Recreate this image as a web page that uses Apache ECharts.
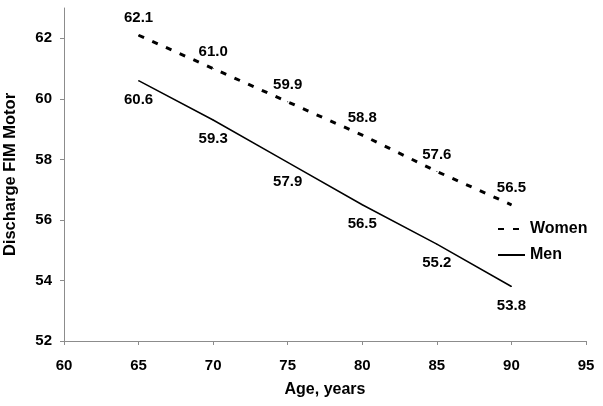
<!DOCTYPE html>
<html>
<head>
<meta charset="utf-8">
<script src="https://cdn.jsdelivr.net/npm/echarts@6/dist/echarts.min.js"></script>
<style>html,body{margin:0;padding:0;background:#fff}#c{width:603px;height:406px}</style>
</head>
<body>
<div id="c"></div>
<script>
var ages = [65, 70, 75, 80, 85, 90];
var women = [62.1, 61.0, 59.9, 58.8, 57.6, 56.5];
var men = [60.6, 59.3, 57.9, 56.5, 55.2, 53.8];
var yTicks = [52, 54, 56, 58, 60, 62];
var xTicks = [60, 65, 70, 75, 80, 85, 90, 95];

var FONT = '"Liberation Sans", Arial, sans-serif';
function pairs(v){ return ages.map(function(a,i){ return [a, v[i]]; }); }
function fmt(p){ return p.value[1].toFixed(1); }

var chart = echarts.init(document.getElementById('c'));
chart.setOption({
  animation: false,
  backgroundColor: '#fff',
  grid: { left: 64, right: 17, top: 8, bottom: 65, containLabel: false, outerBoundsMode: 'none' },
  xAxis: {
    type: 'value', min: 60, max: 95, interval: 5,
    name: 'Age, years', nameLocation: 'middle', nameGap: 41,
    nameTextStyle: { fontFamily: FONT, fontWeight: 'bold', fontSize: 16, color: '#000' },
    axisLine: { show: true, lineStyle: { color: '#8c8c8c', width: 1 } },
    axisTick: { show: true, length: 4, lineStyle: { color: '#8c8c8c' }, customValues: xTicks },
    axisLabel: { margin: 17, fontFamily: FONT, fontWeight: 'bold', fontSize: 15, color: '#000', customValues: xTicks },
    splitLine: { show: false }
  },
  yAxis: {
    type: 'value', min: 52, max: 63, interval: 2,
    name: 'Discharge FIM Motor', nameLocation: 'middle', nameGap: 45,
    nameTextStyle: { fontFamily: FONT, fontWeight: 'bold', fontSize: 16.5, color: '#000' },
    axisLine: { show: true, lineStyle: { color: '#8c8c8c', width: 1 } },
    axisTick: { show: true, length: 4, lineStyle: { color: '#8c8c8c' }, customValues: yTicks },
    axisLabel: { margin: 12, fontFamily: FONT, fontWeight: 'bold', fontSize: 15, color: '#000', customValues: yTicks },
    splitLine: { show: false }
  },
  legend: {
    orient: 'vertical', left: 497, top: 221, itemGap: 10, padding: 0,
    itemWidth: 27, itemHeight: 14,
    itemStyle: { opacity: 0 },
    textStyle: { fontFamily: FONT, fontWeight: 'bold', fontSize: 16, color: '#000' },
    data: ['Women', 'Men']
  },
  series: [
    {
      name: 'Women', type: 'line', data: pairs(women), symbol: 'circle', symbolSize: 1, showSymbol: true,
      lineStyle: { color: '#000', width: 3, type: [6, 9] },
      itemStyle: { color: '#000' },
      label: { show: true, position: 'top', distance: 9, formatter: fmt,
        fontFamily: FONT, fontWeight: 'bold', fontSize: 15, color: '#000' }
    },
    {
      name: 'Men', type: 'line', data: pairs(men), symbol: 'circle', symbolSize: 1, showSymbol: true,
      lineStyle: { color: '#000', width: 1.5, type: 'solid' },
      itemStyle: { color: '#000' },
      label: { show: true, position: 'bottom', distance: 11, formatter: fmt,
        fontFamily: FONT, fontWeight: 'bold', fontSize: 15, color: '#000' }
    }
  ]
});
</script>
</body>
</html>
